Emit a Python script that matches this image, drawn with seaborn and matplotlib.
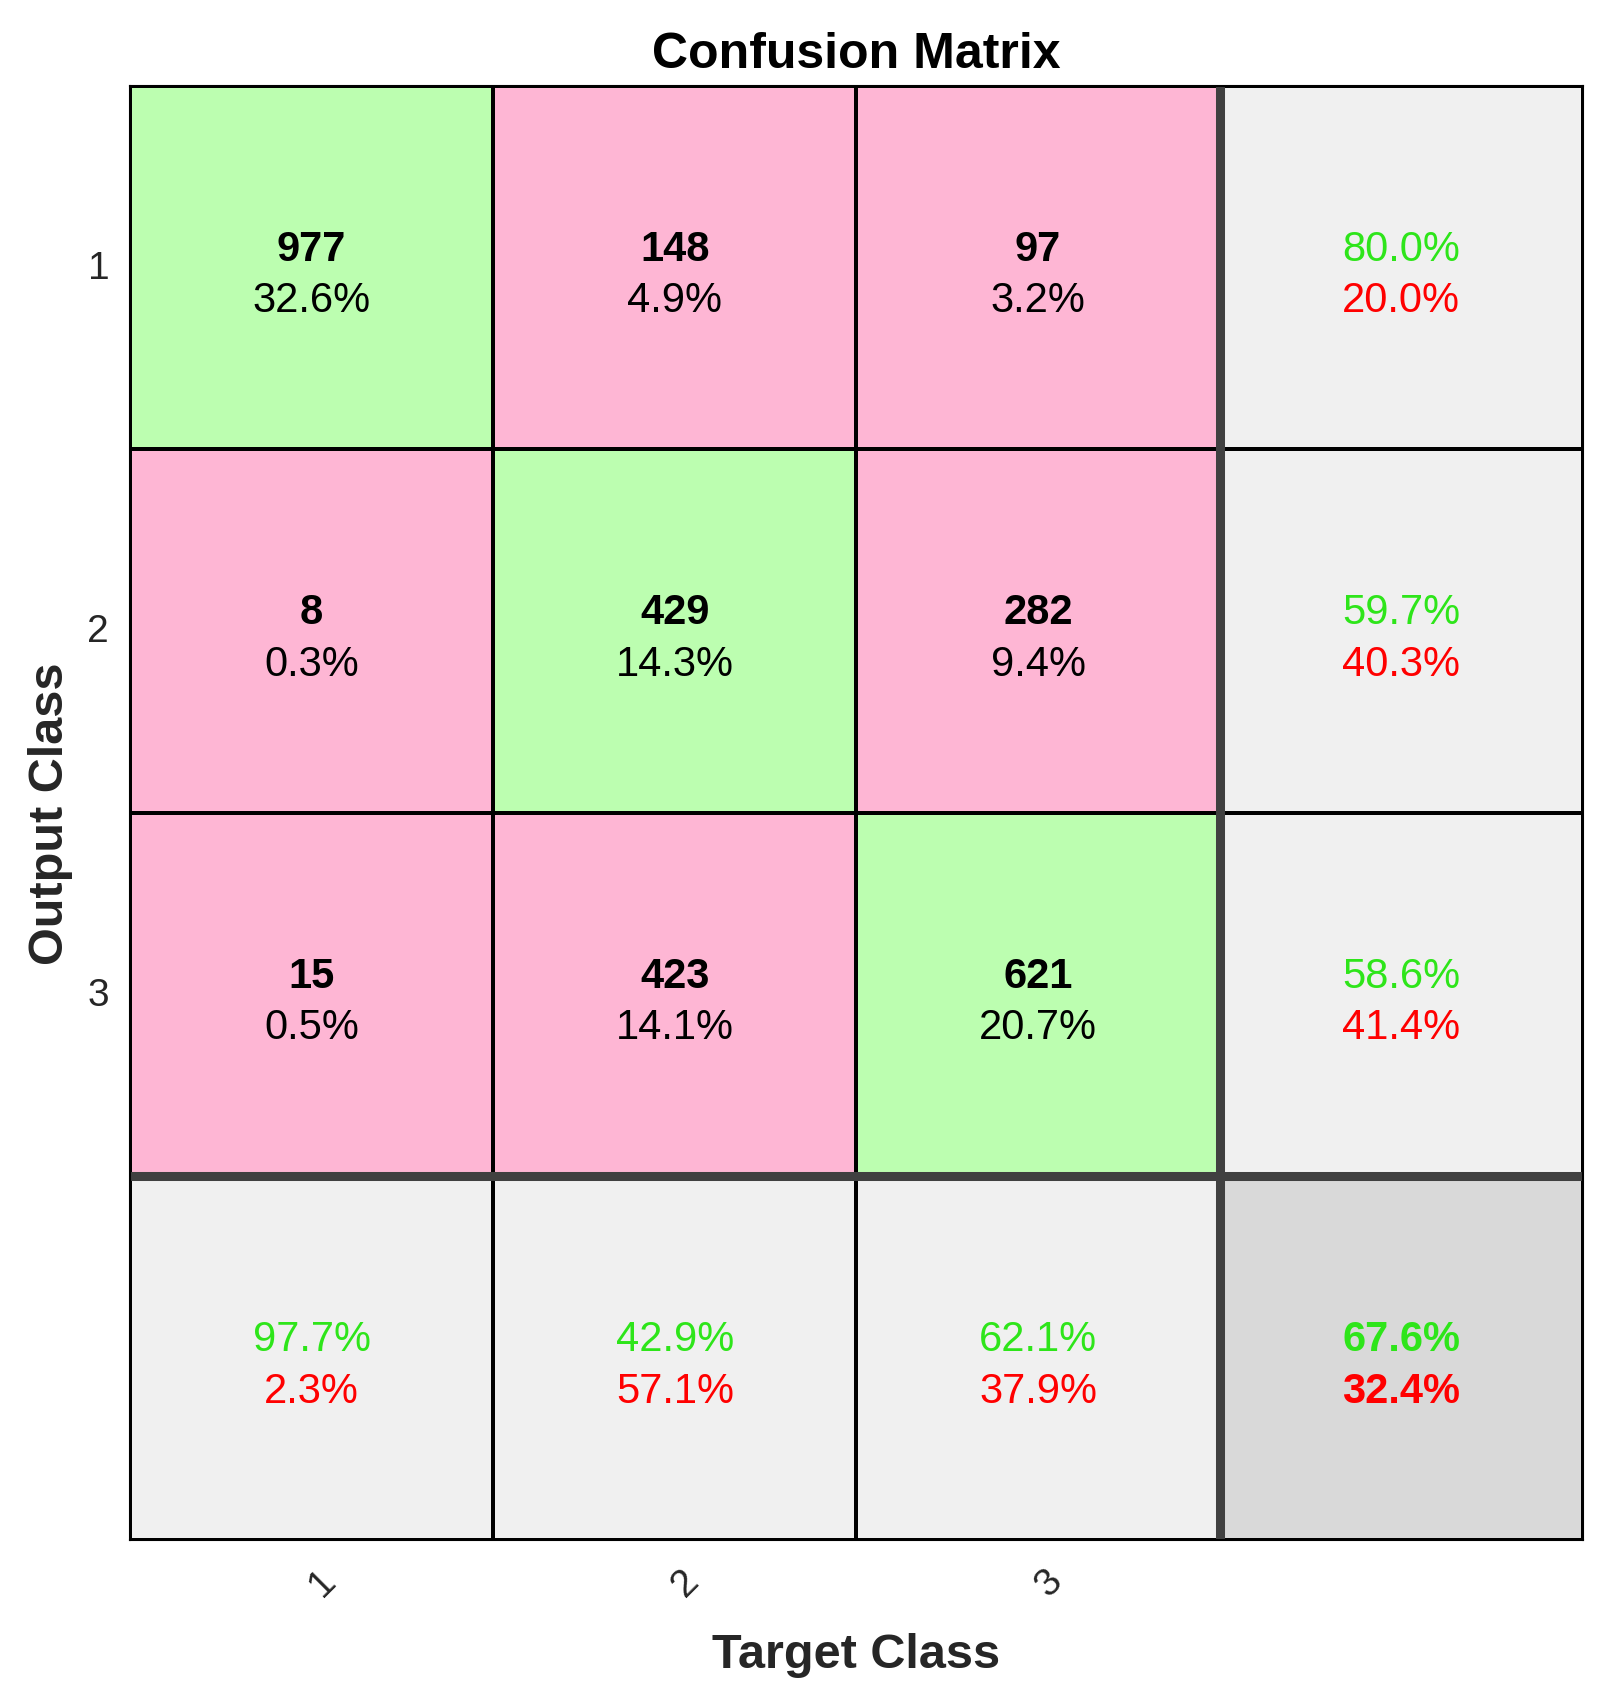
#!/usr/bin/env python3
"""confusion matrix in the style of matlab plotconfusion"""
import numpy as np
import matplotlib
matplotlib.use("Agg")
import matplotlib.pyplot as plt
from matplotlib.colors import ListedColormap
from matplotlib.transforms import ScaledTranslation
import seaborn as sns

classes = ["1", "2", "3"]

# counts, rows = output class, cols = target class
counts = [
    [977, 148, 97],
    [8, 429, 282],
    [15, 423, 621],
]
cell_pct = [
    ["32.6%", "4.9%", "3.2%"],
    ["0.3%", "14.3%", "9.4%"],
    ["0.5%", "14.1%", "20.7%"],
]
# right column (per output class) and bottom row (per target class)
row_good = ["80.0%", "59.7%", "58.6%"]
row_bad = ["20.0%", "40.3%", "41.4%"]
col_good = ["97.7%", "42.9%", "62.1%"]
col_bad = ["2.3%", "57.1%", "37.9%"]
total_good = "67.6%"
total_bad = "32.4%"

sns.set_style("white")
plt.rcParams["font.family"] = ["Liberation Sans", "DejaVu Sans"]

n = len(classes)
# colour category of every cell: 0 diagonal, 1 off diagonal, 2 summary, 3 total
kind = np.ones((n + 1, n + 1))
kind[np.arange(n), np.arange(n)] = 0
kind[n, :] = 2
kind[:, n] = 2
kind[n, n] = 3

cmap = ListedColormap(["#bcfeb0", "#feb6d4", "#f0f0f0", "#d9d9d9"])
green = "#2ee51a"
red = "#ff0000"

fig = plt.figure(figsize=(16.09, 16.99), dpi=100)
ax = fig.add_axes([0.0808, 0.0930, 0.9030, 0.8558])

sns.heatmap(kind, cmap=cmap, vmin=-0.5, vmax=3.5, cbar=False,
            linewidths=1.5, linecolor="black", ax=ax, square=False)

# thick separators for the summary row/column
ax.axhline(n, color="#404040", lw=6.5)
ax.axvline(n, color="#404040", lw=6.5)

up, dn = 0.448, 0.59
fs = 30
for i in range(n):
    for j in range(n):
        ax.text(j + 0.5, i + up, str(counts[i][j]), ha="center", va="center",
                fontsize=fs, fontweight="bold", color="black")
        ax.text(j + 0.5, i + dn, cell_pct[i][j], ha="center", va="center",
                fontsize=fs, color="black")
    # right column
    ax.text(n + 0.5, i + up, row_good[i], ha="center", va="center",
            fontsize=fs, color=green)
    ax.text(n + 0.5, i + dn, row_bad[i], ha="center", va="center",
            fontsize=fs, color=red)
    # bottom row
    ax.text(i + 0.5, n + up, col_good[i], ha="center", va="center",
            fontsize=fs, color=green)
    ax.text(i + 0.5, n + dn, col_bad[i], ha="center", va="center",
            fontsize=fs, color=red)

ax.text(n + 0.5, n + up, total_good, ha="center", va="center",
        fontsize=fs, fontweight="bold", color=green)
ax.text(n + 0.5, n + dn, total_bad, ha="center", va="center",
        fontsize=fs, fontweight="bold", color=red)

for s in ax.spines.values():
    s.set_visible(True)
    s.set_color("black")
    s.set_linewidth(1.5)

ax.set_xticks(np.arange(n) + 0.5)
ax.set_xticklabels(classes, rotation=45, fontsize=28, ha="center")
ax.set_yticks(np.arange(n) + 0.5)
ax.set_yticklabels(classes, rotation=0, fontsize=28, color="#262626")
ax.tick_params(axis="both", length=0)
ax.tick_params(axis="x", pad=16)
ax.tick_params(axis="y", pad=15)
shift = ScaledTranslation(11 / 100, 0, fig.dpi_scale_trans)
for lab in ax.get_xticklabels():
    lab.set_transform(lab.get_transform() + shift)

ax.set_xlabel("Target Class", fontsize=35, fontweight="bold", color="#262626")
ax.set_ylabel("Output Class", fontsize=35, fontweight="bold", color="#262626")
ax.xaxis.set_label_coords(0.5, -0.079)
ax.xaxis.label.set_va("center")
ax.yaxis.set_label_coords(-0.0545, 0.5)
ax.yaxis.label.set_va("center")

ax.set_title("Confusion Matrix", fontsize=36, fontweight="bold",
             y=1.016, va="center", color="black")

fig.savefig("out.png", dpi=100)
